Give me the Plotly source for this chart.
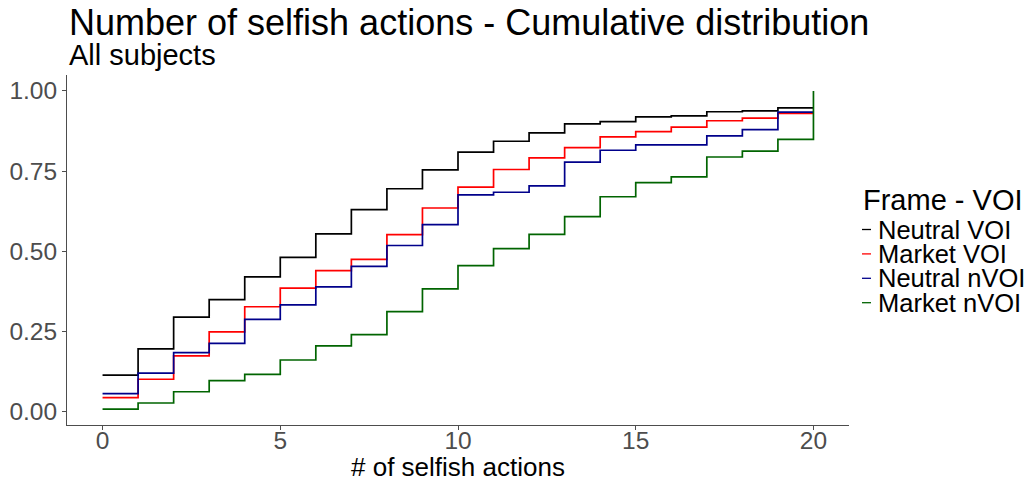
import plotly.graph_objects as go

# ---- data ----
selfish_actions = list(range(0, 21))
series_names = ["Neutral VOI", "Market VOI", "Neutral nVOI", "Market nVOI"]
series_colors = ["#000000", "#FF0000", "#00008B", "#006400"]

neutral_voi = [0.114, 0.196, 0.295, 0.349, 0.420, 0.481, 0.554, 0.630, 0.695, 0.754,
               0.809, 0.843, 0.869, 0.897, 0.904, 0.919, 0.922, 0.935, 0.938, 0.947, 0.947]
market_voi = [0.044, 0.101, 0.174, 0.249, 0.327, 0.385, 0.440, 0.475, 0.552, 0.635,
              0.700, 0.755, 0.791, 0.823, 0.857, 0.873, 0.887, 0.907, 0.915, 0.930, 0.930]
neutral_nvoi = [0.056, 0.120, 0.184, 0.213, 0.288, 0.333, 0.389, 0.453, 0.518, 0.583,
                0.676, 0.684, 0.704, 0.778, 0.815, 0.832, 0.832, 0.860, 0.879, 0.934, 0.934]
market_nvoi = [0.008, 0.027, 0.062, 0.097, 0.116, 0.161, 0.205, 0.240, 0.312, 0.383,
               0.455, 0.508, 0.553, 0.608, 0.670, 0.714, 0.732, 0.794, 0.812, 0.849, 1.000]
series_values = [neutral_voi, market_voi, neutral_nvoi, market_nvoi]

x_tickvals = [0, 5, 10, 15, 20]
y_tickvals = [0.0, 0.25, 0.5, 0.75, 1.0]
y_ticktext = ["0.00", "0.25", "0.50", "0.75", "1.00"]

title_text = "Number of selfish actions - Cumulative distribution"
subtitle_text = "All subjects"
x_title_text = "# of selfish actions"
legend_title_text = "Frame - VOI"

# ---- layout geometry (screen pixels; page body has an 8px margin) ----
OFF = 8
SCREEN_W, SCREEN_H = 1034, 480
W, H = SCREEN_W - OFF, SCREEN_H - OFF
PLOT_L, PLOT_R, PLOT_T, PLOT_B = 67, 849, 75, 425   # screen coords of plot area
ML = PLOT_L - OFF
MT = PLOT_T - OFF
MR = W - (PLOT_R - OFF)
MB = H - (PLOT_B - OFF)
PW, PH = PLOT_R - PLOT_L, PLOT_B - PLOT_T
FONT = "Liberation Sans, Arial, Helvetica, sans-serif"


def px_x(px):
    return (px - PLOT_L) / PW


def px_y(py):
    return (PLOT_B - py) / PH


fig = go.Figure()
for name, color, vals in zip(series_names, series_colors, series_values):
    fig.add_trace(go.Scatter(
        x=selfish_actions, y=vals, mode="lines", name=name,
        line=dict(color=color, width=1.7, shape="hv"),
        showlegend=False,
    ))

annotations = [
    dict(text=title_text, x=px_x(67), y=px_y(22.5), xref="paper", yref="paper",
         xanchor="left", yanchor="middle", showarrow=False,
         font=dict(size=36, color="#000000", family=FONT)),
    dict(text=subtitle_text, x=px_x(67), y=px_y(54.5), xref="paper", yref="paper",
         xanchor="left", yanchor="middle", showarrow=False,
         font=dict(size=29, color="#000000", family=FONT)),
    dict(text=x_title_text, x=0.5, y=px_y(467), xref="paper", yref="paper",
         xanchor="center", yanchor="middle", showarrow=False,
         font=dict(size=26, color="#000000", family=FONT)),
    dict(text=legend_title_text, x=px_x(861), y=px_y(199.5), xref="paper", yref="paper",
         xanchor="left", yanchor="middle", showarrow=False,
         font=dict(size=29, color="#000000", family=FONT)),
]
shapes = []
item_y0, item_step = 229.5, 24.4
for i, (name, color) in enumerate(zip(series_names, series_colors)):
    yy = item_y0 + i * item_step
    annotations.append(dict(text=name, x=px_x(876), y=px_y(yy), xref="paper", yref="paper",
                            xanchor="left", yanchor="middle", showarrow=False,
                            font=dict(size=25.5, color="#000000", family=FONT)))
    shapes.append(dict(type="line", xref="paper", yref="paper",
                       x0=px_x(862), x1=px_x(871), y0=px_y(yy), y1=px_y(yy),
                       line=dict(color=color, width=1.3)))

fig.update_layout(
    width=W, height=H,
    margin=dict(l=ML, r=MR, t=MT, b=MB, pad=0, autoexpand=False),
    paper_bgcolor="white", plot_bgcolor="white",
    font=dict(family=FONT),
    showlegend=False,
    annotations=annotations,
    shapes=shapes,
    xaxis=dict(range=[-1.0, 21.0], tickvals=x_tickvals, showgrid=False, zeroline=False,
               automargin=False, ticklabelstandoff=-10,
               showline=True, linecolor="#4d4d4d", linewidth=1,
               ticks="outside", ticklen=4, tickcolor="#4d4d4d", tickwidth=1,
               tickfont=dict(size=24.5, color="#4d4d4d", family=FONT)),
    yaxis=dict(range=[-0.0416, 1.0496], tickvals=y_tickvals, ticktext=y_ticktext,
               showgrid=False, zeroline=False, automargin=False,
               showline=True, linecolor="#4d4d4d", linewidth=1,
               ticks="outside", ticklen=4, tickcolor="#4d4d4d", tickwidth=1,
               tickfont=dict(size=24.5, color="#4d4d4d", family=FONT)),
)

fig.write_html("out.html")
